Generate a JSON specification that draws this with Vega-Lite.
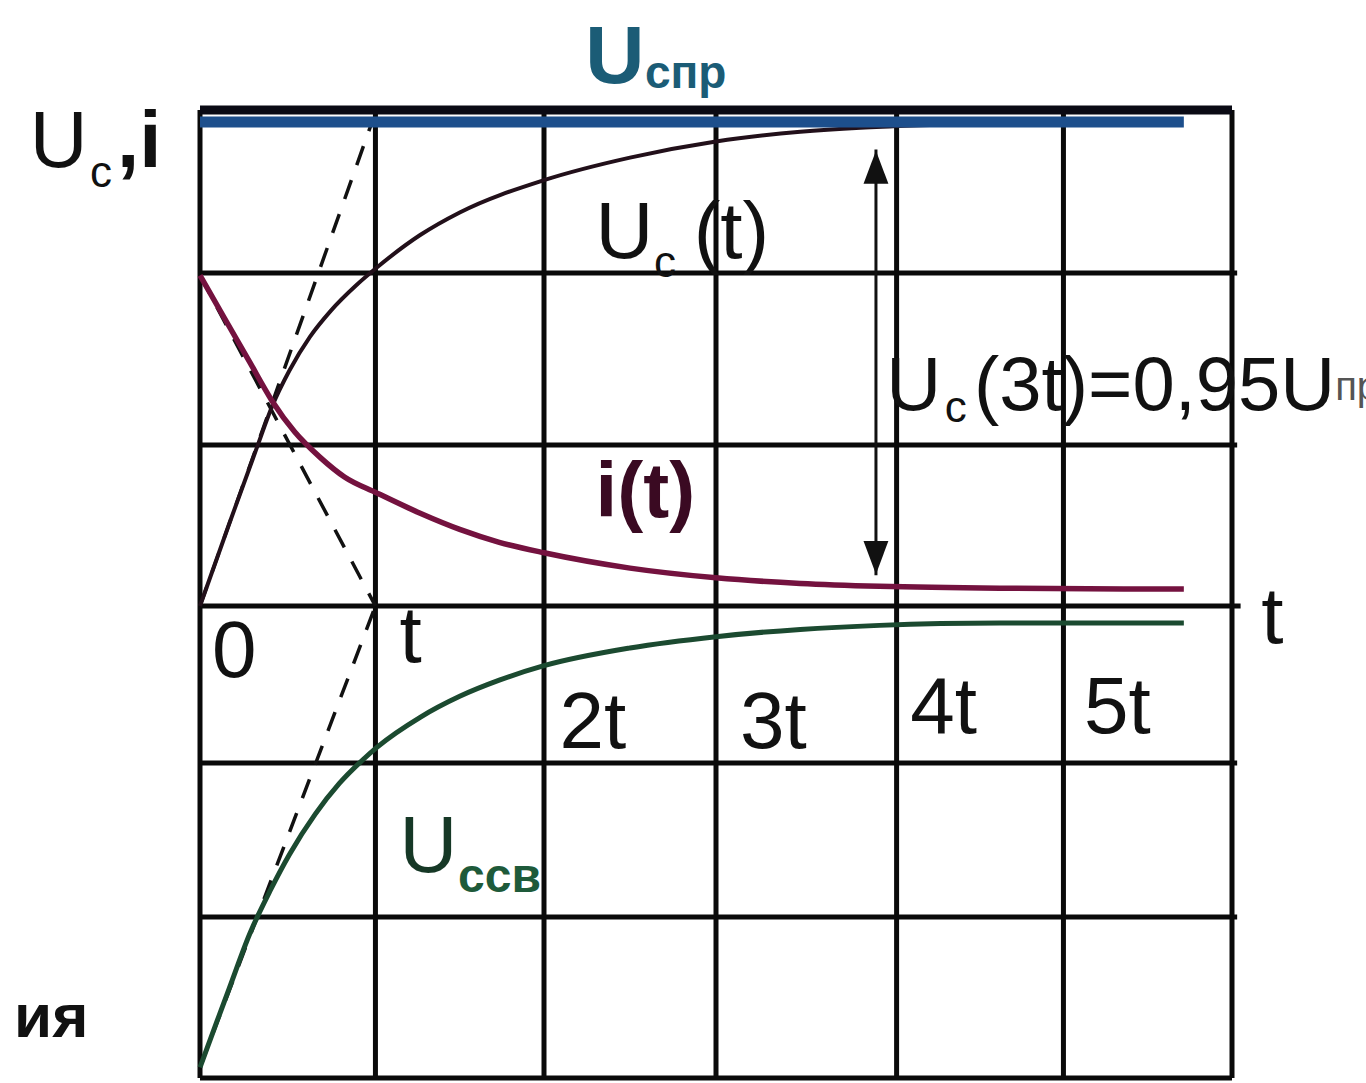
{
  "$schema": "https://vega.github.io/schema/vega-lite/v6.json",
  "width": 1032,
  "height": 968,
  "autosize": {"type": "none"},
  "padding": {"left": 200, "top": 110, "right": 134, "bottom": 5},
  "background": "white",
  "config": {"view": {"stroke": null}, "text": {"font": "Liberation Sans", "baseline": "alphabetic", "align": "left"}},
  "datasets": {
    "vlines": [
      {"t": 0, "lo": -2.926, "hi": 3.075}, {"t": 1.02, "lo": -2.926, "hi": 3.075}, {"t": 2.0, "lo": -2.926, "hi": 3.075},
      {"t": 3.0, "lo": -2.926, "hi": 3.075}, {"t": 4.05, "lo": -2.926, "hi": 3.075}, {"t": 5.02, "lo": -2.926, "hi": 3.075},
      {"t": 6.0, "lo": -2.926, "hi": 3.075}
    ],
    "hlines": [
      {"v": 2.064, "from": 0, "to": 6.03}, {"v": 0.998, "from": 0, "to": 6.03}, {"v": 0, "from": 0, "to": 6.05},
      {"v": -0.973, "from": 0, "to": 6.03}, {"v": -1.928, "from": 0, "to": 6.03}, {"v": -2.926, "from": 0, "to": 6.0}
    ],
    "frameTop": [{"v": 3.075, "from": 0, "to": 6.0}],
    "curves": [
      {"series": "Uc", "t": 0, "v": 0}, {"series": "Uc", "t": 0.17, "v": 0.51}, {"series": "Uc", "t": 0.33, "v": 0.98},
      {"series": "Uc", "t": 0.42, "v": 1.24}, {"series": "Uc", "t": 0.52, "v": 1.46}, {"series": "Uc", "t": 0.64, "v": 1.67},
      {"series": "Uc", "t": 0.76, "v": 1.83}, {"series": "Uc", "t": 0.91, "v": 1.99}, {"series": "Uc", "t": 1.03, "v": 2.1},
      {"series": "Uc", "t": 1.28, "v": 2.3}, {"series": "Uc", "t": 1.51, "v": 2.44}, {"series": "Uc", "t": 2.0, "v": 2.64},
      {"series": "Uc", "t": 2.5, "v": 2.78}, {"series": "Uc", "t": 3.0, "v": 2.88}, {"series": "Uc", "t": 3.49, "v": 2.94},
      {"series": "Uc", "t": 3.84, "v": 2.965}, {"series": "Uc", "t": 4.19, "v": 2.98}, {"series": "Uc", "t": 4.5, "v": 2.99},
      {"series": "i", "t": 0, "v": 2.05}, {"series": "i", "t": 0.15, "v": 1.77}, {"series": "i", "t": 0.29, "v": 1.51},
      {"series": "i", "t": 0.42, "v": 1.27}, {"series": "i", "t": 0.55, "v": 1.08}, {"series": "i", "t": 0.7, "v": 0.92},
      {"series": "i", "t": 0.84, "v": 0.8}, {"series": "i", "t": 1.03, "v": 0.7}, {"series": "i", "t": 1.28, "v": 0.575},
      {"series": "i", "t": 1.51, "v": 0.475}, {"series": "i", "t": 1.74, "v": 0.395}, {"series": "i", "t": 2.0, "v": 0.33},
      {"series": "i", "t": 2.5, "v": 0.235}, {"series": "i", "t": 3.0, "v": 0.175}, {"series": "i", "t": 3.49, "v": 0.14},
      {"series": "i", "t": 3.95, "v": 0.122}, {"series": "i", "t": 4.65, "v": 0.11}, {"series": "i", "t": 5.72, "v": 0.105},
      {"series": "Ucsv", "t": 0, "v": -2.86}, {"series": "Ucsv", "t": 0.09, "v": -2.6}, {"series": "Ucsv", "t": 0.17, "v": -2.37},
      {"series": "Ucsv", "t": 0.29, "v": -2.03}, {"series": "Ucsv", "t": 0.41, "v": -1.76}, {"series": "Ucsv", "t": 0.52, "v": -1.54},
      {"series": "Ucsv", "t": 0.67, "v": -1.29}, {"series": "Ucsv", "t": 0.81, "v": -1.1}, {"series": "Ucsv", "t": 0.95, "v": -0.95},
      {"series": "Ucsv", "t": 1.03, "v": -0.875}, {"series": "Ucsv", "t": 1.28, "v": -0.69}, {"series": "Ucsv", "t": 1.51, "v": -0.56},
      {"series": "Ucsv", "t": 1.74, "v": -0.46}, {"series": "Ucsv", "t": 2.0, "v": -0.37}, {"series": "Ucsv", "t": 2.5, "v": -0.26},
      {"series": "Ucsv", "t": 3.0, "v": -0.19}, {"series": "Ucsv", "t": 3.49, "v": -0.145}, {"series": "Ucsv", "t": 3.95, "v": -0.12},
      {"series": "Ucsv", "t": 4.65, "v": -0.105}, {"series": "Ucsv", "t": 5.72, "v": -0.105},
      {"series": "Ucpr", "t": 0, "v": 3.0}, {"series": "Ucpr", "t": 5.72, "v": 3.0}
    ],
    "tangents": [
      {"name": "Uc", "t": 0, "v": 0}, {"name": "Uc", "t": 1.0, "v": 3.0},
      {"name": "i", "t": 0, "v": 2.05}, {"name": "i", "t": 1.02, "v": 0},
      {"name": "Ucsv", "t": 0, "v": -2.86}, {"name": "Ucsv", "t": 1.02, "v": 0}
    ],
    "arrow": [{"t": 3.93, "from": 0.19, "to": 2.83}],
    "heads": [{"t": 3.93, "v": 2.72, "dir": "up"}, {"t": 3.93, "v": 0.3, "dir": "down"}],
    "labels": [
      {"part": "main", "text": "U", "t": -0.99, "v": 2.72},
      {"part": "main", "text": "U", "t": 2.3, "v": 2.16},
      {"part": "main", "text": "(t)", "t": 2.87, "v": 2.16},
      {"part": "eq", "text": "U", "t": 3.99, "v": 1.215},
      {"part": "eq", "text": "(3t)=0,95U", "t": 4.5, "v": 1.215},
      {"part": "main", "text": "t", "t": 6.17, "v": -0.23},
      {"part": "main", "text": "0", "t": 0.07, "v": -0.44},
      {"part": "main", "text": "t", "t": 1.16, "v": -0.35},
      {"part": "main", "text": "2t", "t": 2.09, "v": -0.88},
      {"part": "main", "text": "3t", "t": 3.14, "v": -0.88},
      {"part": "main", "text": "4t", "t": 4.13, "v": -0.79},
      {"part": "main", "text": "5t", "t": 5.14, "v": -0.79},
      {"part": "sub", "text": "c", "t": -0.64, "v": 2.6},
      {"part": "sub", "text": "c", "t": 2.64, "v": 2.04},
      {"part": "sub", "text": "c", "t": 4.33, "v": 1.14},
      {"part": "axisI", "text": ",i", "t": -0.483, "v": 2.72},
      {"part": "current", "text": "i(t)", "t": 2.3, "v": 0.552},
      {"part": "forced", "text": "U", "t": 2.24, "v": 3.24},
      {"part": "forcedSub", "text": "спр", "t": 2.587, "v": 3.21},
      {"part": "free", "text": "U", "t": 1.16, "v": -1.65},
      {"part": "freeSub", "text": "ссв", "t": 1.5, "v": -1.77},
      {"part": "tail", "text": "пр", "t": 6.6, "v": 1.277},
      {"part": "caption", "text": "ия", "t": -1.081, "v": -2.672}
    ]
  },
  "encoding": {
    "x": {"field": "t", "type": "quantitative", "scale": {"domain": [0, 6], "nice": false, "zero": false}, "axis": null},
    "y": {"field": "v", "type": "quantitative", "scale": {"domain": [-2.926, 3.075], "nice": false, "zero": false}, "axis": null}
  },
  "layer": [
    {
      "data": {"name": "vlines"},
      "mark": {"type": "rule", "color": "#0a0a0a", "strokeWidth": 5},
      "encoding": {"y": {"field": "lo", "type": "quantitative"}, "y2": {"field": "hi"}}
    },
    {
      "data": {"name": "hlines"},
      "mark": {"type": "rule", "color": "#0a0a0a", "strokeWidth": 5},
      "encoding": {"x": {"field": "from", "type": "quantitative"}, "x2": {"field": "to"}}
    },
    {
      "data": {"name": "frameTop"},
      "mark": {"type": "rule", "color": "#0a0a14", "strokeWidth": 9},
      "encoding": {"x": {"field": "from", "type": "quantitative"}, "x2": {"field": "to"}}
    },
    {
      "data": {"name": "tangents"},
      "mark": {"type": "line", "color": "#111111", "strokeWidth": 3.5, "strokeDash": [20, 16]},
      "encoding": {"detail": {"field": "name"}}
    },
    {
      "data": {"name": "curves"},
      "transform": [{"filter": "datum.series === 'Uc'"}],
      "mark": {"type": "line", "color": "#22101a", "strokeWidth": 4, "interpolate": "monotone"},
      "encoding": {}
    },
    {
      "data": {"name": "curves"},
      "transform": [{"filter": "datum.series === 'i'"}],
      "mark": {"type": "line", "color": "#74123f", "strokeWidth": 5.5, "interpolate": "monotone", "strokeCap": "butt"},
      "encoding": {}
    },
    {
      "data": {"name": "curves"},
      "transform": [{"filter": "datum.series === 'Ucsv'"}],
      "mark": {"type": "line", "color": "#1b4a30", "strokeWidth": 5, "interpolate": "monotone", "strokeCap": "butt"},
      "encoding": {}
    },
    {
      "data": {"name": "curves"},
      "transform": [{"filter": "datum.series === 'Ucpr'"}],
      "mark": {"type": "line", "color": "#1d4f8c", "strokeWidth": 11, "strokeCap": "butt"},
      "encoding": {}
    },
    {
      "data": {"name": "arrow"},
      "mark": {"type": "rule", "color": "#111111", "strokeWidth": 3},
      "encoding": {"y": {"field": "from", "type": "quantitative"}, "y2": {"field": "to"}}
    },
    {
      "data": {"name": "heads"},
      "transform": [{"filter": "datum.dir === 'up'"}],
      "mark": {"type": "point", "filled": true, "color": "#111111", "opacity": 1, "size": 1100, "shape": "M0,-1L0.75,1L-0.75,1Z"},
      "encoding": {}
    },
    {
      "data": {"name": "heads"},
      "transform": [{"filter": "datum.dir === 'down'"}],
      "mark": {"type": "point", "filled": true, "color": "#111111", "opacity": 1, "size": 1100, "shape": "M0,1L0.75,-1L-0.75,-1Z"},
      "encoding": {}
    },
    {
      "data": {"name": "labels"},
      "transform": [{"filter": "datum.part === 'main'"}],
      "mark": {"type": "text", "fontSize": 80, "color": "#111111"},
      "encoding": {"text": {"field": "text"}}
    },
    {
      "data": {"name": "labels"},
      "transform": [{"filter": "datum.part === 'eq'"}],
      "mark": {"type": "text", "fontSize": 76, "color": "#111111"},
      "encoding": {"text": {"field": "text"}}
    },
    {
      "data": {"name": "labels"},
      "transform": [{"filter": "datum.part === 'sub'"}],
      "mark": {"type": "text", "fontSize": 44, "color": "#111111"},
      "encoding": {"text": {"field": "text"}}
    },
    {
      "data": {"name": "labels"},
      "transform": [{"filter": "datum.part === 'axisI'"}],
      "mark": {"type": "text", "fontSize": 80, "fontWeight": "bold", "color": "#111111"},
      "encoding": {"text": {"field": "text"}}
    },
    {
      "data": {"name": "labels"},
      "transform": [{"filter": "datum.part === 'current'"}],
      "mark": {"type": "text", "fontSize": 78, "fontWeight": "bold", "color": "#3a0a22"},
      "encoding": {"text": {"field": "text"}}
    },
    {
      "data": {"name": "labels"},
      "transform": [{"filter": "datum.part === 'forced'"}],
      "mark": {"type": "text", "fontSize": 82, "fontWeight": "bold", "color": "#1b5c76"},
      "encoding": {"text": {"field": "text"}}
    },
    {
      "data": {"name": "labels"},
      "transform": [{"filter": "datum.part === 'forcedSub'"}],
      "mark": {"type": "text", "fontSize": 46, "fontWeight": "bold", "color": "#1b5c76"},
      "encoding": {"text": {"field": "text"}}
    },
    {
      "data": {"name": "labels"},
      "transform": [{"filter": "datum.part === 'free'"}],
      "mark": {"type": "text", "fontSize": 80, "color": "#163826"},
      "encoding": {"text": {"field": "text"}}
    },
    {
      "data": {"name": "labels"},
      "transform": [{"filter": "datum.part === 'freeSub'"}],
      "mark": {"type": "text", "fontSize": 48, "fontWeight": "bold", "color": "#1e5a3a"},
      "encoding": {"text": {"field": "text"}}
    },
    {
      "data": {"name": "labels"},
      "transform": [{"filter": "datum.part === 'tail'"}],
      "mark": {"type": "text", "fontSize": 40, "color": "#555555"},
      "encoding": {"text": {"field": "text"}}
    },
    {
      "data": {"name": "labels"},
      "transform": [{"filter": "datum.part === 'caption'"}],
      "mark": {"type": "text", "fontSize": 62, "fontWeight": "bold", "color": "#111111"},
      "encoding": {"text": {"field": "text"}}
    }
  ]
}
